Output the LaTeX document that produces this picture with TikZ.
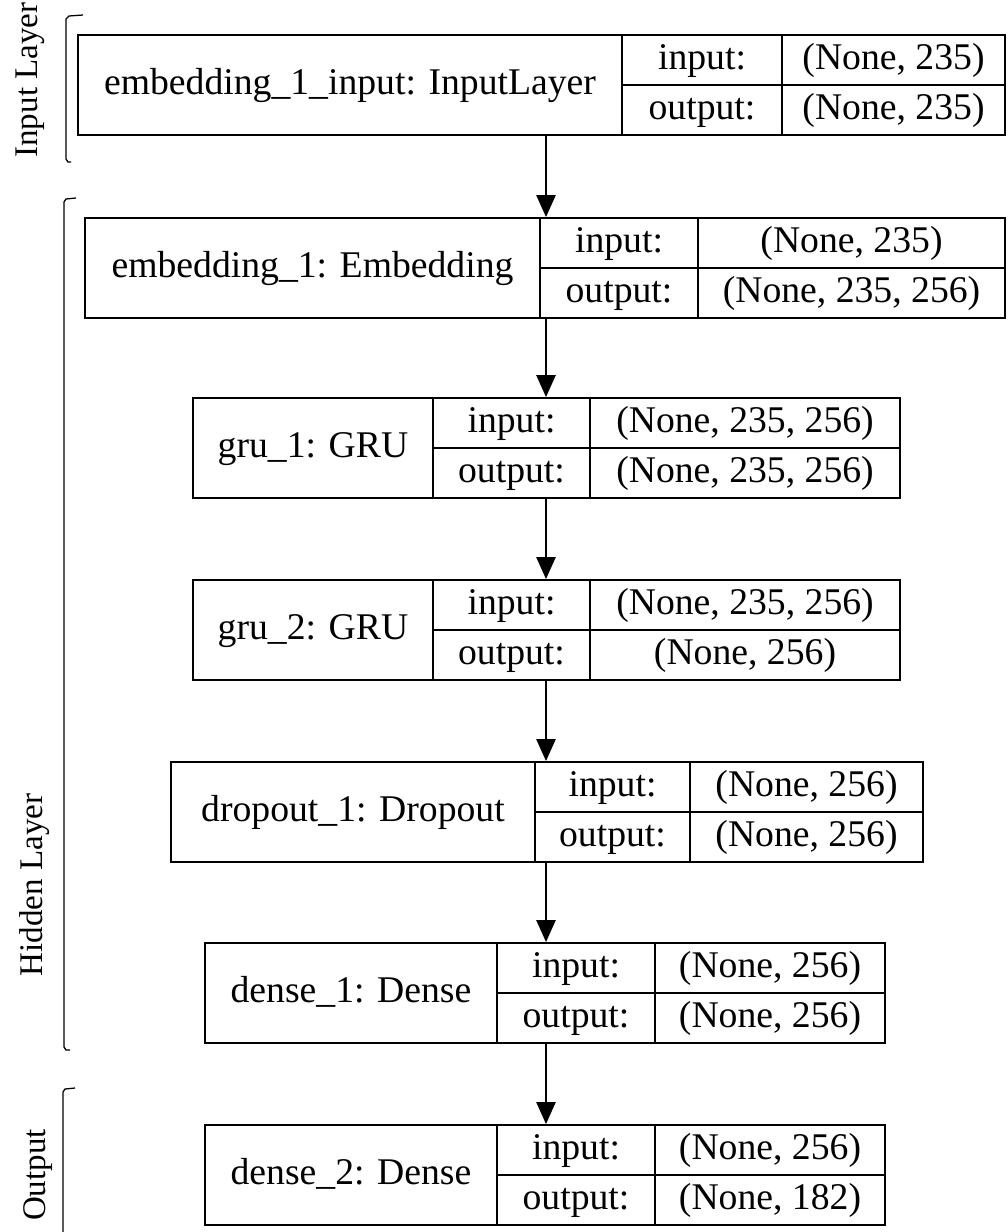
\documentclass[tikz,border=0pt]{standalone}
\usepackage{fontspec}
\setmainfont{Liberation Serif}
\usetikzlibrary{arrows.meta}

% one keras layer: name, y centre, x left, x divider 1, x divider 2, x right, title, input, output
\newcommand{\kerasbox}[9]{%
  \node[layerbox, minimum width={(#6-#3)*0.025cm}] (#1) at ({(#3+#6)/2},#2) {};
  \draw[boxline] (#4,#2-50) -- (#4,#2+50);
  \draw[boxline] (#5,#2-50) -- (#5,#2+50);
  \draw[boxline] (#4,#2) -- (#6,#2);
  \node[txt] (#1-name) at ({(#3+#4)/2},#2+9) {#7};
  \node[txt] (#1-inlbl) at ({(#4+#5)/2},#2-16) {input:};
  \node[txt] (#1-outlbl) at ({(#4+#5)/2},#2+34) {output:};
  \node[txt] (#1-in) at ({(#5+#6)/2},#2-16) {#8};
  \node[txt] (#1-out) at ({(#5+#6)/2},#2+34) {#9};
}

\tikzset{
  layerbox/.style={draw, line width=1.3pt, minimum height=2.5cm, inner sep=0pt},
  boxline/.style={line width=1.3pt},
  txt/.style={inner sep=0pt, anchor=base, font=\fontsize{26.8}{30}\selectfont},
  grp/.style={inner sep=0pt, rotate=90, font=\fontsize{23.5}{28}\selectfont},
  brk/.style={line width=0.9pt},
  flow/.style={line width=1.3pt, -{Triangle[length=0.55cm, width=0.48cm]}}
}

\begin{document}
\begin{tikzpicture}[x=0.025cm, y=-0.025cm]
  \useasboundingbox (0,0) rectangle (1008,1232);

  \kerasbox{embin}{85}{78}{622}{782}{1005}{embedding\_1\_input: InputLayer}{(None, 235)}{(None, 235)}
  \kerasbox{emb}{268}{85}{540}{698}{1005}{embedding\_1: Embedding}{(None, 235)}{(None, 235, 256)}
  \kerasbox{gruA}{448}{193}{433}{590}{900}{gru\_1: GRU}{(None, 235, 256)}{(None, 235, 256)}
  \kerasbox{gruB}{630}{193}{433}{590}{900}{gru\_2: GRU}{(None, 235, 256)}{(None, 256)}
  \kerasbox{drop}{812}{171}{535}{690}{923}{dropout\_1: Dropout}{(None, 256)}{(None, 256)}
  \kerasbox{denseA}{993}{205}{497}{655}{885}{dense\_1: Dense}{(None, 256)}{(None, 256)}
  \kerasbox{denseB}{1175}{205}{497}{655}{885}{dense\_2: Dense}{(None, 256)}{(None, 182)}

  % arrows between layers
  \draw[flow] (embin.south -| 546,0) -- (emb.north -| 546,0);
  \draw[flow] (emb.south -| 546,0) -- (gruA.north -| 546,0);
  \draw[flow] (gruA.south -| 546,0) -- (gruB.north -| 546,0);
  \draw[flow] (gruB.south -| 546,0) -- (drop.north -| 546,0);
  \draw[flow] (drop.south -| 546,0) -- (denseA.north -| 546,0);
  \draw[flow] (denseA.south -| 546,0) -- (denseB.north -| 546,0);

  % group brackets
  \draw[brk] (83,15) -- (69,16) -- (66,19) -- (66,159) -- (68,162) -- (71,162);
  \draw[brk] (76,198) -- (66,199) -- (64,202) -- (64,1047) -- (66,1050) -- (70,1050);
  \draw[brk] (75,1088) -- (65,1089) -- (63,1092) -- (63,1240);

  \node[grp] (lblin) at (30,80) {Input Layer};
  \node[grp] (lblhid) at (35,885) {Hidden Layer};
  \node[grp] (lblout) at (38,1175) {Output};
\end{tikzpicture}
\end{document}
